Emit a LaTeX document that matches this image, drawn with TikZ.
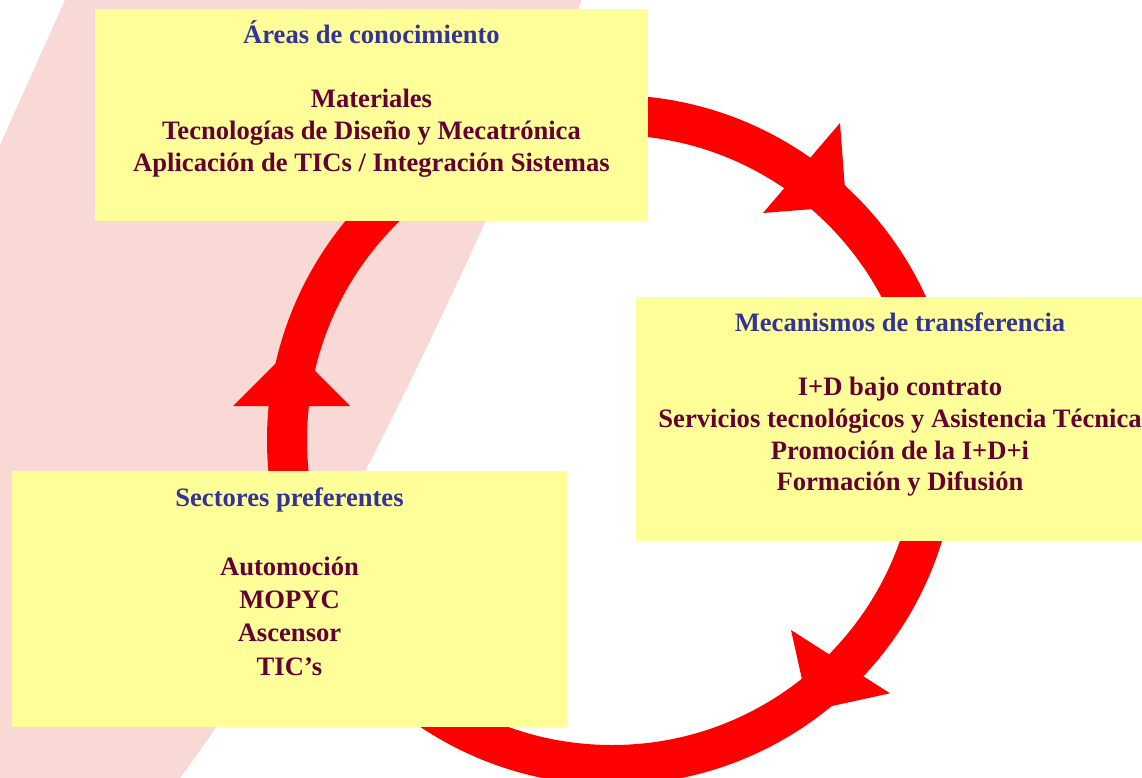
\documentclass[tikz,border=0pt]{standalone}
\usepackage{fontspec}
\setmainfont{Liberation Serif}
\definecolor{bandpink}{RGB}{248,217,213}
\definecolor{boxyellow}{RGB}{255,255,153}
\definecolor{titleblue}{RGB}{51,51,153}
\definecolor{bodymaroon}{RGB}{102,0,51}
\tikzset{
  box/.style={fill=boxyellow, draw=none, inner sep=0pt, outer sep=0pt},
  ttl/.style={text=titleblue, font=\fontsize{26.6}{32}\selectfont\bfseries, anchor=base, inner sep=0pt},
  bodyline/.style={text=bodymaroon, font=\fontsize{26.6}{32}\selectfont\bfseries, anchor=base, inner sep=0pt},
  arrowtri/.style={fill=red, draw=none},
  ring/.style={draw=red, line width=40pt}
}
\begin{document}
\begin{tikzpicture}[x=1pt,y=-1pt]
\useasboundingbox (0,0) rectangle (1142,778);
\clip (0,0) rectangle (1142,778);
% background band
\fill[bandpink] (65,0) -- (582,0) .. controls (428,366.7) and (294,626) .. (180,778) -- (0,778) -- (0,145) -- cycle;
% cycle ring
\coordinate (ringc) at (612,440);
\draw[ring] (ringc) circle[radius=325];
% arrowheads
\fill[arrowtri] (840,123) -- (763,213) -- (846.3,206.4) -- cycle;
\fill[arrowtri] (791,630) -- (890,693.3) -- (809,711) -- cycle;
\fill[arrowtri] (233,406) -- (350,406) -- (291.5,347.5) -- cycle;
% boxes
\node[box, minimum width=553pt, minimum height=212pt] (areas) at (371.5,115) {};
\node[box, minimum width=528pt, minimum height=244pt] (mecan) at (900,419) {};
\node[box, minimum width=555pt, minimum height=256pt] (sect) at (289.5,599) {};
% texts: top box
\node[ttl] (areasT) at (371.5,43.3) {Áreas de conocimiento};
\node[bodyline] (areas1) at (371.5,107.7) {Materiales};
\node[bodyline] (areas2) at (371.5,139.7) {Tecnologías de Diseño y Mecatrónica};
\node[bodyline] (areas3) at (371.5,171.7) {Aplicación de TICs / Integración Sistemas};
% texts: right box
\node[ttl] (mecanT) at (900,331.7) {Mecanismos de transferencia};
\node[bodyline] (mecan1) at (900,395.7) {I+D bajo contrato};
\node[bodyline] (mecan2) at (900,427.7) {Servicios tecnológicos y Asistencia Técnica};
\node[bodyline] (mecan3) at (900,459.2) {Promoción de la I+D+i};
\node[bodyline] (mecan4) at (900,490.7) {Formación y Difusión};
% texts: bottom-left box
\node[ttl] (sectT) at (289.5,506.7) {Sectores preferentes};
\node[bodyline] (sect1) at (289.5,575) {Automoción};
\node[bodyline] (sect2) at (289.5,608.3) {MOPYC};
\node[bodyline] (sect3) at (289.5,641.7) {Ascensor};
\node[bodyline] (sect4) at (289.5,675) {TIC’s};
\end{tikzpicture}
\end{document}
